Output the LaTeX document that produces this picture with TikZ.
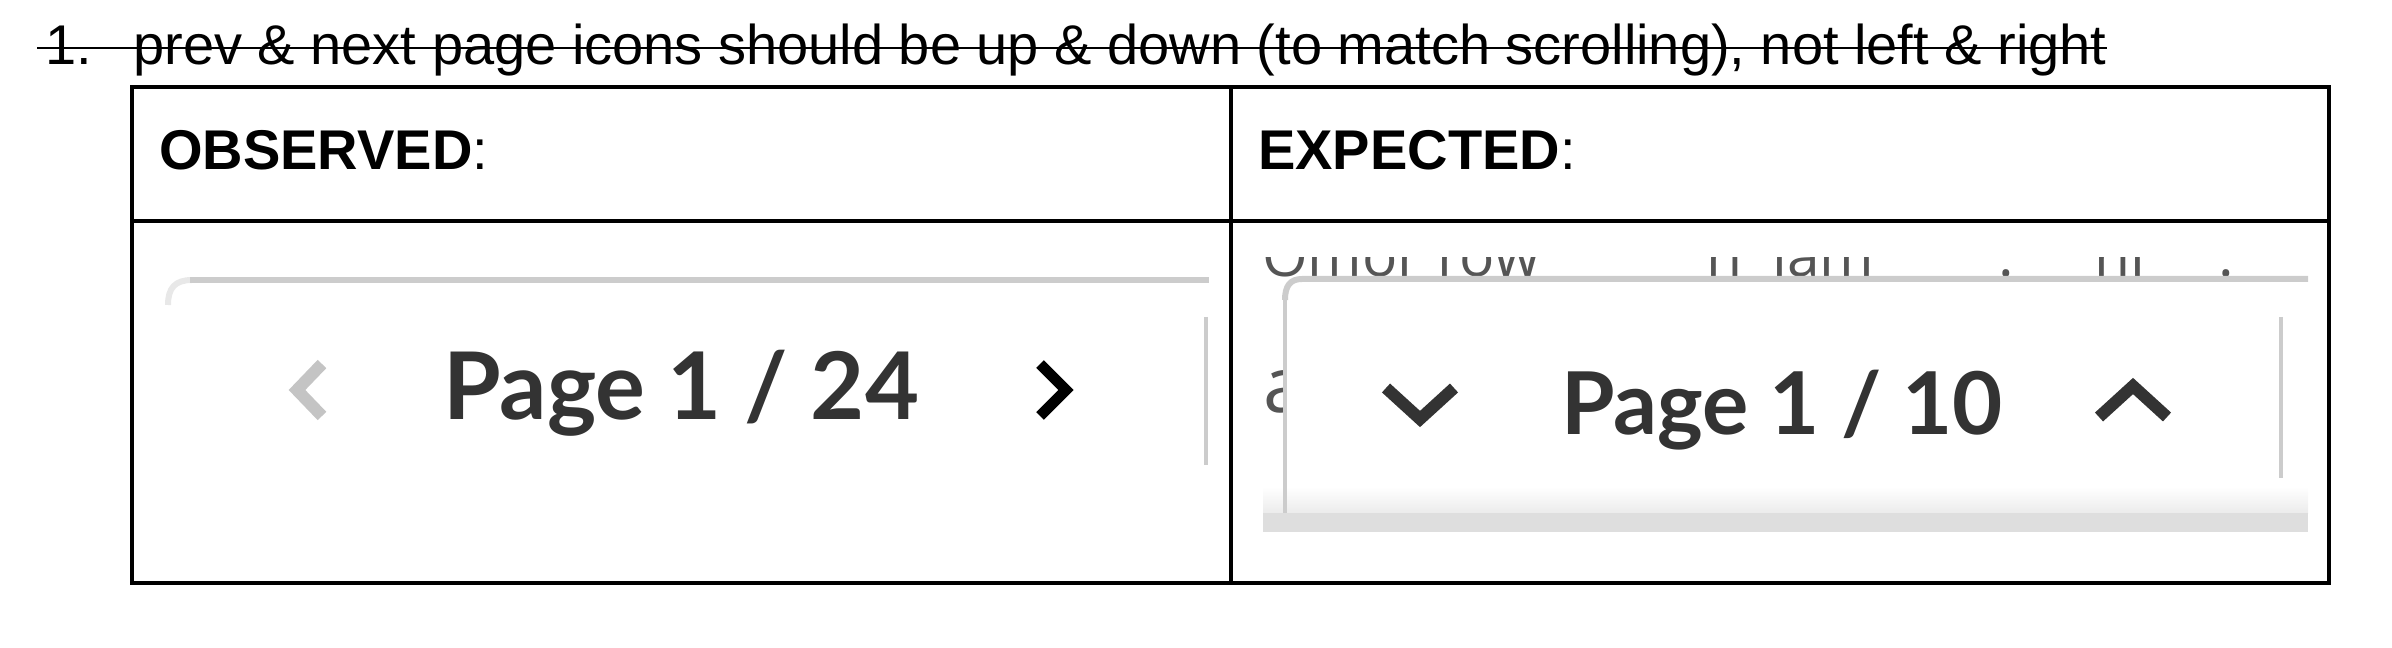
\documentclass[tikz,border=0pt]{standalone}
\usepackage{fontspec}
\setmainfont{Liberation Sans}
\newfontfamily\pagefont{Lato}
\newfontfamily\shotfont{Open Sans}
\definecolor{pagegray}{HTML}{333333}
\definecolor{barline}{HTML}{CCCCCC}
\definecolor{chevgray}{HTML}{C4C4C4}
\definecolor{bandgray}{HTML}{DEDEDE}
\definecolor{scrapgray}{HTML}{555555}
\tikzset{
  cell/.style={line width=2.9pt},
  panelline/.style={draw=barline, line width=4.5pt},
  sideline/.style={draw=barline, line width=3.2pt},
  chev/.style={line width=9pt, line join=miter},
  pagelbl/.style={inner sep=0pt, anchor=base west, text=pagegray},
  scraptxt/.style={anchor=base west, inner sep=0pt, text=scrapgray, font=\shotfont\fontsize{44}{50}\selectfont},
}
\newcommand{\headsize}{\fontsize{42}{50}\selectfont}
\begin{document}
\begin{tikzpicture}[x=0.75pt,y=0.75pt,yscale=-1,xscale=1]
    \useasboundingbox (0,0) rectangle (2392,648);
    % Heading (struck out)
    \draw (45,65) node (num) [anchor=base west][inner sep=0pt] {\headsize 1.};
    \draw (133,65) node (head) [anchor=base west][inner sep=0pt] {\headsize prev \& next page icons should be up \& down (to match scrolling), not left \& right};
    \coordinate (strikeL) at (37,48);
    \draw [line width=2.2pt] (strikeL) -- (strikeL -| head.east);
    % Table
    \draw [cell] (132,87) rectangle (2329,583);
    \draw [cell] (132,221) -- (2329,221);
    \draw [cell] (1231,87) -- (1231,583);
    % Text Node
    \draw (159,170) node (obs) [anchor=base west][inner sep=0pt] {\headsize\textbf{OBSERVED}:};
    % Text Node
    \draw (1258,170) node (exp) [anchor=base west][inner sep=0pt] {\headsize\textbf{EXPECTED}:};
    % Observed screenshot
    \draw [panelline, draw=barline!45] (168,305) .. controls (168,288) and (175,280) .. (192,280);
    \draw [panelline] (190,280) -- (1209,280);
    \draw [sideline] (1206,317) -- (1206,465);
    \draw [chev, chevgray] (322,364) -- (297,390) -- (322,416);
    \draw (443,420) node (pgobs) [pagelbl] {\pagefont\bfseries\fontsize{70}{80}\selectfont Page 1 / 24};
    \draw [chev, black, line width=8pt] (1040,364) -- (1066,390) -- (1040,416);
    % Expected screenshot: cut-off text behind the panel
    \begin{scope}
        \clip (1255,258) rectangle (2300,278);
        \draw (1262,277) node (scrapA) [scraptxt] {Omor row};
        \draw (1706,277) node (scrapB) [scraptxt] {n};
        \draw (1772,277) node (scrapC) [scraptxt] {lam};
        \draw (1998,277) node (scrapD) [scraptxt] {:};
        \draw (2094,277) node (scrapE) [scraptxt] {nl};
        \draw (2218,277) node (scrapF) [scraptxt] {.};
    \end{scope}
    \draw (1263,412) node (scrapa) [anchor=base west][inner sep=0pt][text=scrapgray] {\shotfont\fontsize{58}{64}\selectfont a};
    \fill [white] (1285,279) rectangle (2308,513);
    \shade [top color=white, bottom color=bandgray!60] (1263,487) rectangle (2308,513);
    \fill [bandgray] (1263,513) rectangle (2308,532);
    \draw [panelline] (1285,300) .. controls (1285,286) and (1290,279) .. (1302,279) -- (2308,279);
    \draw [sideline] (1285,290) -- (1285,513);
    \draw [sideline] (2281,317) -- (2281,478);
    \draw [chev, pagegray] (1386,388) -- (1420,419) -- (1454,388);
    \draw (1561,435) node (pgexp) [pagelbl] {\pagefont\bfseries\fontsize{65}{75}\selectfont Page 1 / 10};
    \draw [chev, pagegray] (2099,417) -- (2133,386) -- (2167,417);
\end{tikzpicture}
\end{document}
